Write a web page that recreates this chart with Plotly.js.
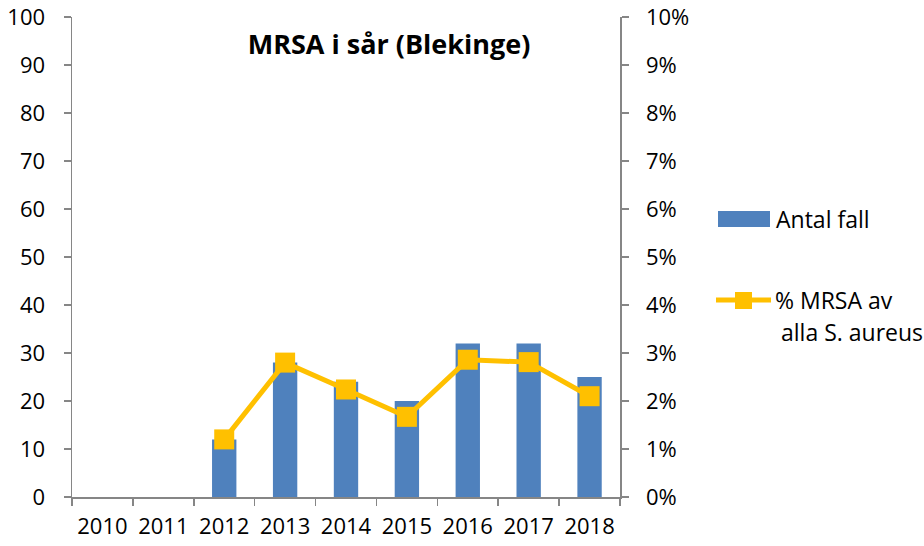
<!DOCTYPE html>
<html>
<head>
<meta charset="utf-8">
<script src="https://cdn.plot.ly/plotly-3.0.1.min.js"></script>
<style>html,body{margin:0;padding:0;background:#fff}#chart{width:924px;height:546px}</style>
</head>
<body>
<div id="chart"></div>
<script>
// Data
const years = ["2010", "2011", "2012", "2013", "2014", "2015", "2016", "2017", "2018"];
const antalFall = [null, null, 12, 28, 24, 20, 32, 32, 25];
const mrsaPct = [null, null, 0.012, 0.028, 0.0224, 0.0167, 0.0286, 0.0281, 0.021];
const titleText = "MRSA i sår (Blekinge)";
const legendBar = "Antal fall";
const legendLine1 = "% MRSA av";
const legendLine2 = "alla S. aureus";

const FONT = "Open Sans, Noto Sans, sans-serif";
const AX = "#868686";
const BAR = "#4F81BD";
const LINE = "#FFC000";
const TICK_SIZE = 22;
const LEG_SIZE = 23;

// px -> paper helpers for legend placement (plot area 72..620 x, 17..497 y)
const px = v => (v - 72) / 548;
const py = v => (497 - v) / 480;

const traces = [
  {
    type: "bar", x: years, y: antalFall, name: legendBar,
    marker: {color: BAR}, showlegend: false, hoverinfo: "x+y"
  },
  {
    type: "scatter", mode: "lines+markers", x: years, y: mrsaPct, name: legendLine1 + " " + legendLine2,
    yaxis: "y2", line: {color: LINE, width: 5},
    marker: {symbol: "square", size: 20, color: LINE}, showlegend: false,
    connectgaps: false
  }
];

const layout = {
  width: 924, height: 546,
  margin: {l: 72, r: 304, t: 17, b: 49, pad: 0},
  paper_bgcolor: "#fff", plot_bgcolor: "#fff",
  font: {family: FONT, size: TICK_SIZE, color: "#000"},
  bargap: 0.6,
  title: {
    text: titleText, x: 389 / 924, xanchor: "center", y: 1 - 45 / 546, yanchor: "middle",
    font: {family: FONT, size: 27, weight: "bold", color: "#000"}
  },
  xaxis: {
    type: "category", categoryorder: "array", categoryarray: years,
    range: [-0.5, years.length - 0.5], autorange: false,
    showline: true, linecolor: AX, linewidth: 1.5,
    ticks: "outside", tickson: "boundaries", ticklen: 7, tickcolor: AX, tickwidth: 1.5,
    showgrid: false, zeroline: false, ticklabelstandoff: 9, tickangle: 0,
    ticklabeloverflow: "allow",
    tickfont: {family: FONT, size: TICK_SIZE, color: "#000"}, fixedrange: true
  },
  yaxis: {
    range: [0, 100], dtick: 10, tick0: 0,
    showline: true, linecolor: AX, linewidth: 1.5,
    ticks: "outside", ticklen: 7, tickcolor: AX, tickwidth: 1.5,
    showgrid: false, zeroline: false, ticklabelstandoff: 14,
    ticklabeloverflow: "allow",
    tickfont: {family: FONT, size: TICK_SIZE, color: "#000"}, fixedrange: true
  },
  yaxis2: {
    overlaying: "y", side: "right", range: [0, 0.1], dtick: 0.01, tick0: 0,
    tickformat: ".0%",
    showline: true, linecolor: AX, linewidth: 1.5,
    ticks: "outside", ticklen: 7, tickcolor: AX, tickwidth: 1.5,
    showgrid: false, zeroline: false, ticklabelstandoff: 13,
    ticklabeloverflow: "allow",
    tickfont: {family: FONT, size: TICK_SIZE, color: "#000"}, fixedrange: true
  },
  shapes: [
    {type: "rect", xref: "paper", yref: "paper", x0: px(718), x1: px(770), y0: py(227), y1: py(211),
     fillcolor: BAR, line: {width: 0}},
    {type: "line", xref: "paper", yref: "paper", x0: px(716), x1: px(771), y0: py(300), y1: py(300),
     line: {color: LINE, width: 5}},
    {type: "rect", xref: "paper", yref: "paper", x0: px(735), x1: px(752), y0: py(309), y1: py(292),
     fillcolor: LINE, line: {width: 0}}
  ],
  annotations: [
    {xref: "paper", yref: "paper", x: px(774), y: py(219), xanchor: "left", yanchor: "middle",
     text: legendBar, showarrow: false, font: {family: FONT, size: LEG_SIZE, color: "#000"}},
    {xref: "paper", yref: "paper", x: px(773), y: py(300), xanchor: "left", yanchor: "middle",
     text: legendLine1, showarrow: false, font: {family: FONT, size: LEG_SIZE, color: "#000"}},
    {xref: "paper", yref: "paper", x: px(779), y: py(332), xanchor: "left", yanchor: "middle",
     text: legendLine2, showarrow: false, font: {family: FONT, size: LEG_SIZE, color: "#000"}}
  ]
};

Plotly.newPlot("chart", traces, layout, {displayModeBar: false, staticPlot: true});
</script>
</body>
</html>
